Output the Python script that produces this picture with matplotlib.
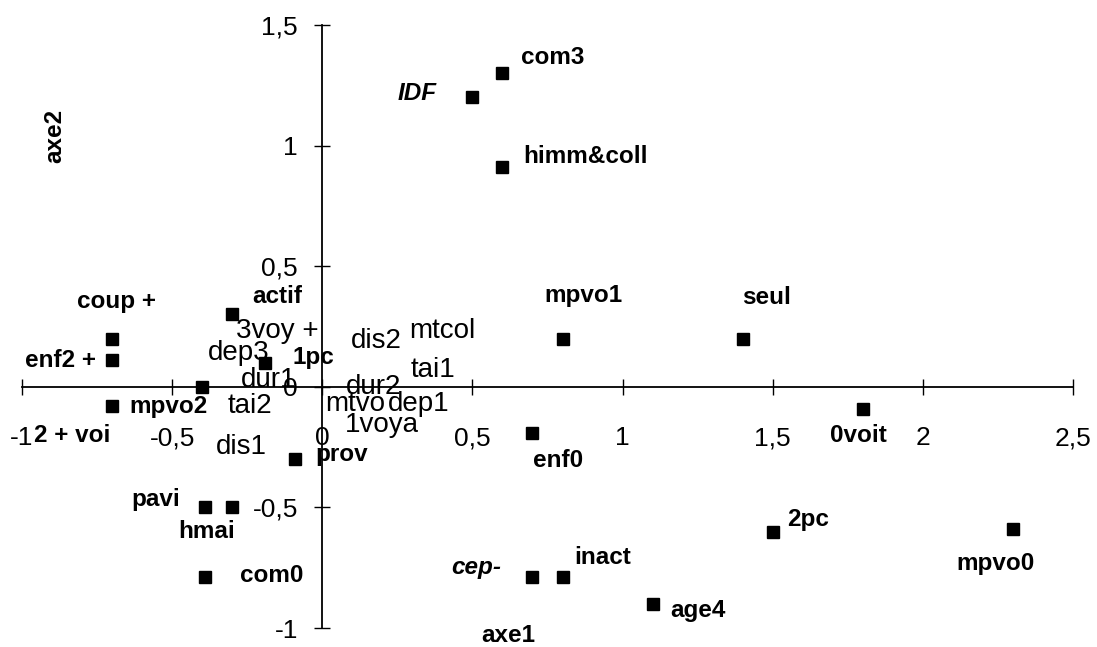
import matplotlib
matplotlib.use("Agg")
import matplotlib.pyplot as plt
from matplotlib.ticker import FuncFormatter, MultipleLocator

plt.rcParams['font.family'] = ['Liberation Sans', 'DejaVu Sans']

# active points (drawn with a marker)
labels = ['coup +', 'enf2 +', '2 + voi', 'mpvo2', 'actif', '1pc', 'prov', 'pavi', 'hmai', 'com0',
          'IDF', 'com3', 'himm&coll', 'mpvo1', 'seul', 'enf0', '0voit', '2pc', 'mpvo0',
          'cep-', 'inact', 'age4']
axe1 = [-0.70, -0.70, -0.70, -0.40, -0.30, -0.19, -0.09, -0.39, -0.30, -0.39,
        0.50, 0.60, 0.60, 0.80, 1.40, 0.70, 1.80, 1.50, 2.30,
        0.70, 0.80, 1.10]
axe2 = [0.20, 0.11, -0.08, 0.00, 0.30, 0.10, -0.30, -0.50, -0.50, -0.79,
        1.20, 1.30, 0.91, 0.20, 0.20, -0.19, -0.09, -0.60, -0.59,
        -0.79, -0.79, -0.90]

# supplementary modalities (label only)
sup_labels = ['3voy +', 'dep3', 'dur1', 'tai2', 'dis1', 'dis2', 'mtcol', 'tai1',
              'dur2', 'mtvo', 'dep1', '1voya']
sup_x = [-0.15, -0.28, -0.18, -0.24, -0.27, 0.18, 0.40, 0.37, 0.17, 0.11, 0.32, 0.20]
sup_y = [0.23, 0.14, 0.03, -0.08, -0.25, 0.19, 0.23, 0.07, 0.00, -0.07, -0.07, -0.16]

# label placement, in pixels from the marker (dx, dy up, ha)
place = {
    'coup +': (4, 37, 'center'), 'enf2 +': (-16, 0, 'right'), '2 + voi': (-78, -29, 'left'),
    'mpvo2': (-73, -20, 'left'), 'actif': (45, 18, 'center'), '1pc': (27, 5, 'left'),
    'prov': (20, 5, 'left'), 'pavi': (-25, 8, 'right'), 'hmai': (-26, -24, 'center'),
    'com0': (35, 2, 'left'), 'IDF': (-36, 4, 'right'), 'com3': (19, 16, 'left'),
    'himm&coll': (21, 11, 'left'), 'mpvo1': (21, 43, 'center'), 'seul': (24, 41, 'center'),
    'enf0': (26, -28, 'center'), '0voit': (-4, -27, 'center'), '2pc': (14, 12, 'left'),
    'mpvo0': (-17, -34, 'center'), 'cep-': (-31, 10, 'right'), 'inact': (12, 20, 'left'),
    'age4': (18, -7, 'left'),
}
italic = ['IDF', 'cep-']

fig = plt.figure(figsize=(10.97, 6.47), dpi=100)
ax = fig.add_axes([22 / 1097, 19 / 647, 1051 / 1097, 603 / 647])
ax.set_xlim(-1, 2.5)
ax.set_ylim(-1, 1.5)

for s in ['top', 'right']:
    ax.spines[s].set_visible(False)
ax.spines['left'].set_position(('data', 0))
ax.spines['bottom'].set_position(('data', 0))
ax.spines['left'].set_linewidth(1.3)
ax.spines['bottom'].set_linewidth(1.3)

ax.xaxis.set_major_locator(MultipleLocator(0.5))
ax.yaxis.set_major_locator(MultipleLocator(0.5))
fmt = FuncFormatter(lambda v, p: ('%g' % v).replace('.', ',').replace('\u2212', '-'))
ax.xaxis.set_major_formatter(fmt)
ax.yaxis.set_major_formatter(fmt)
ax.tick_params(axis='both', direction='inout', length=11, width=1.0, labelsize=19)
ax.tick_params(axis='x', pad=23)
ax.tick_params(axis='y', pad=12)

ax.plot(axe1, axe2, 's', color='black', ms=8.5, clip_on=False, zorder=3)

for lab, x, y in zip(labels, axe1, axe2):
    dx, dy, ha = place[lab]
    ax.annotate(lab, (x, y), xytext=(dx, dy), textcoords='offset pixels',
                ha=ha, va='center', fontsize=17.5, fontweight='bold',
                fontstyle='italic' if lab in italic else 'normal')

for lab, x, y in zip(sup_labels, sup_x, sup_y):
    ax.text(x, y, lab, ha='center', va='center', fontsize=20)

ax.text(0.62, -1.03, 'axe1', ha='center', va='center', fontsize=17.5, fontweight='bold')
ax.text(-0.89, 1.04, 'axe2', ha='center', va='center', fontsize=17.5, fontweight='bold',
        rotation=90)

fig.savefig('out.png', dpi=100)
